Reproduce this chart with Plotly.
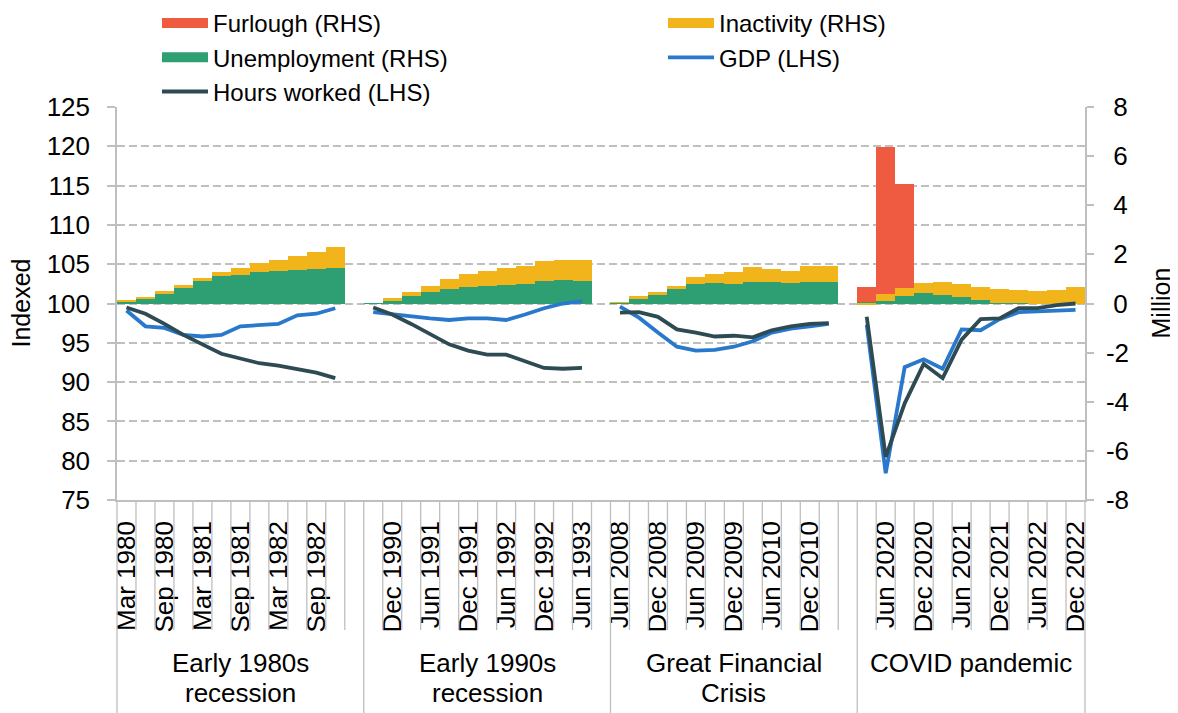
import plotly.graph_objects as go

# ---------------- data ----------------
group_names = ["Early 1980s<br>recession", "Early 1990s<br>recession",
               "Great Financial<br>Crisis", "COVID pandemic"]

quarters_1980s = ["Mar 1980", "Jun 1980", "Sep 1980", "Dec 1980", "Mar 1981", "Jun 1981",
                  "Sep 1981", "Dec 1981", "Mar 1982", "Jun 1982", "Sep 1982", "Dec 1982"]
quarters_1990s = ["Sep 1990", "Dec 1990", "Mar 1991", "Jun 1991", "Sep 1991", "Dec 1991",
                  "Mar 1992", "Jun 1992", "Sep 1992", "Dec 1992", "Mar 1993", "Jun 1993"]
quarters_gfc = ["Jun 2008", "Sep 2008", "Dec 2008", "Mar 2009", "Jun 2009", "Sep 2009",
                "Dec 2009", "Mar 2010", "Jun 2010", "Sep 2010", "Dec 2010", "Mar 2011"]
quarters_covid = ["Mar 2020", "Jun 2020", "Sep 2020", "Dec 2020", "Mar 2021", "Jun 2021",
                  "Sep 2021", "Dec 2021", "Mar 2022", "Jun 2022", "Sep 2022", "Dec 2022"]

# Unemployment (RHS, million)
unemp_1980s = [0.08, 0.22, 0.41, 0.65, 0.90, 1.10, 1.18, 1.27, 1.31, 1.35, 1.40, 1.46]
unemp_1990s = [0.01, 0.11, 0.29, 0.45, 0.60, 0.67, 0.73, 0.76, 0.79, 0.91, 0.97, 0.91]
unemp_gfc = [0.03, 0.20, 0.37, 0.61, 0.80, 0.82, 0.80, 0.88, 0.86, 0.83, 0.86, 0.86]
unemp_covid = [0.05, 0.10, 0.30, 0.44, 0.34, 0.27, 0.14, 0.04, 0.01, -0.01, 0.00, 0.00]

# Inactivity (RHS, million)
inact_1980s = [0.04, 0.04, 0.08, 0.10, 0.12, 0.17, 0.28, 0.39, 0.47, 0.58, 0.71, 0.85]
inact_1990s = [0.00, 0.11, 0.16, 0.27, 0.38, 0.53, 0.60, 0.68, 0.75, 0.83, 0.81, 0.87]
inact_gfc = [0.02, 0.10, 0.08, 0.10, 0.29, 0.38, 0.49, 0.62, 0.55, 0.50, 0.65, 0.65]
inact_covid = [-0.08, 0.30, 0.34, 0.39, 0.52, 0.51, 0.53, 0.56, 0.55, 0.51, 0.57, 0.67]

# Furlough (RHS, million)
furlough_covid = [0.63, 5.99, 4.24, None, None, None, None, None, None, None, None, None]

# GDP (LHS, index)
gdp_1980s = [99.1, 97.1, 96.9, 96.0, 95.8, 96.0, 97.1, 97.2, 97.4, 98.5, 98.7, 99.4]
gdp_1990s = [98.9, 98.6, 98.3, 98.1, 97.9, 98.1, 98.1, 97.9, 98.6, 99.4, 100.0, 100.3]
gdp_gfc = [99.6, 98.2, 96.3, 94.5, 94.0, 94.1, 94.5, 95.2, 96.3, 96.8, 97.1, 97.4]
gdp_covid = [97.3, 78.4, 91.9, 92.9, 91.7, 96.7, 96.6, 98.0, 98.9, 99.0, 99.2, 99.2]

# Hours worked (LHS, index)
hours_1980s = [99.5, 98.7, 97.4, 96.0, 94.8, 93.6, 93.0, 92.4, 92.1, 91.7, 91.2, 90.5]
hours_1990s = [99.5, 98.6, 97.4, 96.1, 94.8, 94.0, 93.5, 93.5, 92.7, 91.8, 91.7, 91.8]
hours_gfc = [98.85, 98.9, 98.3, 96.7, 96.3, 95.8, 95.9, 95.7, 96.6, 97.1, 97.4, 97.5]
hours_covid = [98.3, 80.5, 87.3, 92.3, 90.5, 95.4, 98.0, 98.1, 99.4, 99.4, 99.8, 100.0]

left_ticks = [75, 80, 85, 90, 95, 100, 105, 110, 115, 120, 125]
right_ticks = [-8, -6, -4, -2, 0, 2, 4, 6, 8]

# ---------------- assemble flat category axis (blank slot after first 3 groups) ----
groups = [
    (quarters_1980s, unemp_1980s, inact_1980s, [None] * 12, gdp_1980s, hours_1980s),
    (quarters_1990s, unemp_1990s, inact_1990s, [None] * 12, gdp_1990s, hours_1990s),
    (quarters_gfc, unemp_gfc, inact_gfc, [None] * 12, gdp_gfc, hours_gfc),
    (quarters_covid, unemp_covid, inact_covid, furlough_covid, gdp_covid, hours_covid),
]
cats, unemp, inact, furl, gdp, hours = [], [], [], [], [], []
group_spans = []
for gi, (q, u, ina, f, g, h) in enumerate(groups):
    start = len(cats)
    cats += q; unemp += u; inact += ina; furl += f; gdp += g; hours += h
    if gi < len(groups) - 1:
        cats.append(None); unemp.append(None); inact.append(None)
        furl.append(None); gdp.append(None); hours.append(None)
    group_spans.append((start, len(cats) - 1))
n = len(cats)
xpos = list(range(n))
tickvals = [i for i in xpos if i % 2 == 0 and cats[i] is not None]
ticktext = [cats[i] for i in tickvals]

FONT = "Liberation Sans, Arial, sans-serif"
GRAY = "#BFBFBF"
C_FURL = "#EE5B40"
C_INACT = "#F1B41B"
C_UNEMP = "#2E9E73"
C_GDP = "#2878CC"
C_HOURS = "#2E4A52"

# page body has an 8px margin: size the figure so that it ends at the window edge
PAGE = 8
W, H = 1178 - PAGE, 713 - PAGE
ML, MR, MT = 117 - PAGE, 93, 107 - PAGE
PLOT_H = 393
MB = H - MT - PLOT_H
PLOT_W = W - ML - MR
PLOT_TOP = 107  # window px
PLOT_BOTTOM = PLOT_TOP + PLOT_H


def paper_y(window_y):
    return (PLOT_BOTTOM - window_y) / PLOT_H


fig = go.Figure()
fig.add_trace(go.Bar(x=xpos, y=unemp, name="Unemployment (RHS)", marker_color=C_UNEMP,
                     marker_line_width=0, width=1, yaxis="y", showlegend=False))
fig.add_trace(go.Bar(x=xpos, y=inact, name="Inactivity (RHS)", marker_color=C_INACT,
                     marker_line_width=0, width=1, yaxis="y", showlegend=False))
fig.add_trace(go.Bar(x=xpos, y=furl, name="Furlough (RHS)", marker_color=C_FURL,
                     marker_line_width=0, width=1, yaxis="y", showlegend=False))
fig.add_trace(go.Scatter(x=xpos, y=gdp, name="GDP (LHS)", mode="lines",
                         line=dict(color=C_GDP, width=3.8), yaxis="y2", legend="legend2"))
fig.add_trace(go.Scatter(x=xpos, y=hours, name="Hours worked (LHS)", mode="lines",
                         line=dict(color=C_HOURS, width=3.8), yaxis="y2", legend="legend"))

# legend swatches for the bar series (dummy points placed outside the visible range)
for name, col, lg in [("Furlough (RHS)", C_FURL, "legend"),
                      ("Unemployment (RHS)", C_UNEMP, "legend"),
                      ("Inactivity (RHS)", C_INACT, "legend2")]:
    fig.add_trace(go.Scatter(x=[-50, -49], y=[0, 0], mode="lines", name=name,
                             line=dict(color=col, width=14), legend=lg, yaxis="y2"))

order1 = ["Furlough (RHS)", "Unemployment (RHS)", "Hours worked (LHS)"]
order2 = ["Inactivity (RHS)", "GDP (LHS)"]
for tr in fig.data:
    if tr.name in order1:
        tr.legendrank = order1.index(tr.name) + 1
    elif tr.name in order2:
        tr.legendrank = order2.index(tr.name) + 1

# category dividers (short) and group dividers (long)
short_y = paper_y(630)
long_y = -MB / PLOT_H
shapes = []
group_bounds = [s - 0.5 for s, e in group_spans] + [n - 0.5]
for i in range(n + 1):
    b = i - 0.5
    is_group = b in group_bounds
    if i == 0 or i == n:
        shapes.append(dict(type="line", xref="paper", yref="paper", x0=i / n, x1=i / n,
                           y0=0, y1=long_y, line=dict(color=GRAY, width=1.3)))
    else:
        shapes.append(dict(type="line", xref="x", yref="paper", x0=b, x1=b,
                           y0=0, y1=long_y if is_group else short_y,
                           line=dict(color=GRAY, width=1.3)))

annotations = []
for (s, e), gname in zip(group_spans, group_names):
    for k, line_txt in enumerate(gname.split("<br>")):
        annotations.append(dict(x=(s - 0.5 + e + 0.5) / 2, xref="x",
                                y=paper_y(663 + 30 * k), yref="paper", text=line_txt,
                                showarrow=False, yanchor="middle",
                                font=dict(size=26, color="black", family=FONT)))
# axis titles
annotations.append(dict(x=(20 - 117) / PLOT_W, xref="paper", y=0.5, yref="paper",
                        text="Indexed", textangle=-90, showarrow=False,
                        xanchor="center", yanchor="middle", font=dict(size=25)))
annotations.append(dict(x=(1160 - 117) / PLOT_W, xref="paper", y=0.5, yref="paper",
                        text="Million", textangle=-90, showarrow=False,
                        xanchor="center", yanchor="middle", font=dict(size=25)))

right_text = [str(v) if v < 0 else "\u00a0" + str(v) for v in right_ticks]

fig.update_layout(
    width=W, height=H, autosize=False,
    margin=dict(l=ML, r=MR, t=MT, b=MB, autoexpand=False),
    paper_bgcolor="white", plot_bgcolor="white",
    font=dict(family=FONT, size=24, color="black"),
    barmode="relative", bargap=0,
    shapes=shapes, annotations=annotations,
    xaxis=dict(range=[-0.5, n - 0.5], autorange=False, tickmode="array", tickvals=tickvals,
               ticktext=ticktext, tickangle=-90, showgrid=False, zeroline=False,
               showline=True, linecolor=GRAY, linewidth=1.5, ticks="",
               ticklabelstandoff=9, tickfont=dict(size=26), automargin=False),
    yaxis=dict(side="right", range=[-8, 8], autorange=False, tickmode="array",
               tickvals=right_ticks, ticktext=right_text, tickfont=dict(size=26),
               showgrid=False, zeroline=False, automargin=False,
               showline=True, linecolor=GRAY, linewidth=1.5, ticks="outside", ticklen=7,
               tickcolor=GRAY, tickwidth=1.5, ticklabelstandoff=7),
    yaxis2=dict(side="left", overlaying="y", range=[75, 125], autorange=False,
                tickmode="array", automargin=False, tickfont=dict(size=26),
                tickvals=left_ticks, showgrid=True, gridcolor=GRAY, gridwidth=1.5,
                griddash="8px,4px", zeroline=False, showline=True, linecolor=GRAY,
                linewidth=1.5, ticks="outside", ticklen=8, tickcolor=GRAY, tickwidth=1.5,
                ticklabelstandoff=12),
    legend=dict(xref="container", yref="paper", x=149 / W, y=paper_y(1),
                xanchor="left", yanchor="top", orientation="v", itemwidth=46,
                font=dict(size=24), bgcolor="rgba(0,0,0,0)", traceorder="normal"),
    legend2=dict(xref="container", yref="paper", x=655 / W, y=paper_y(1),
                 xanchor="left", yanchor="top", orientation="v", itemwidth=46,
                 font=dict(size=24), bgcolor="rgba(0,0,0,0)", traceorder="normal"),
    hovermode=False,
)

fig.write_html("out.html")
